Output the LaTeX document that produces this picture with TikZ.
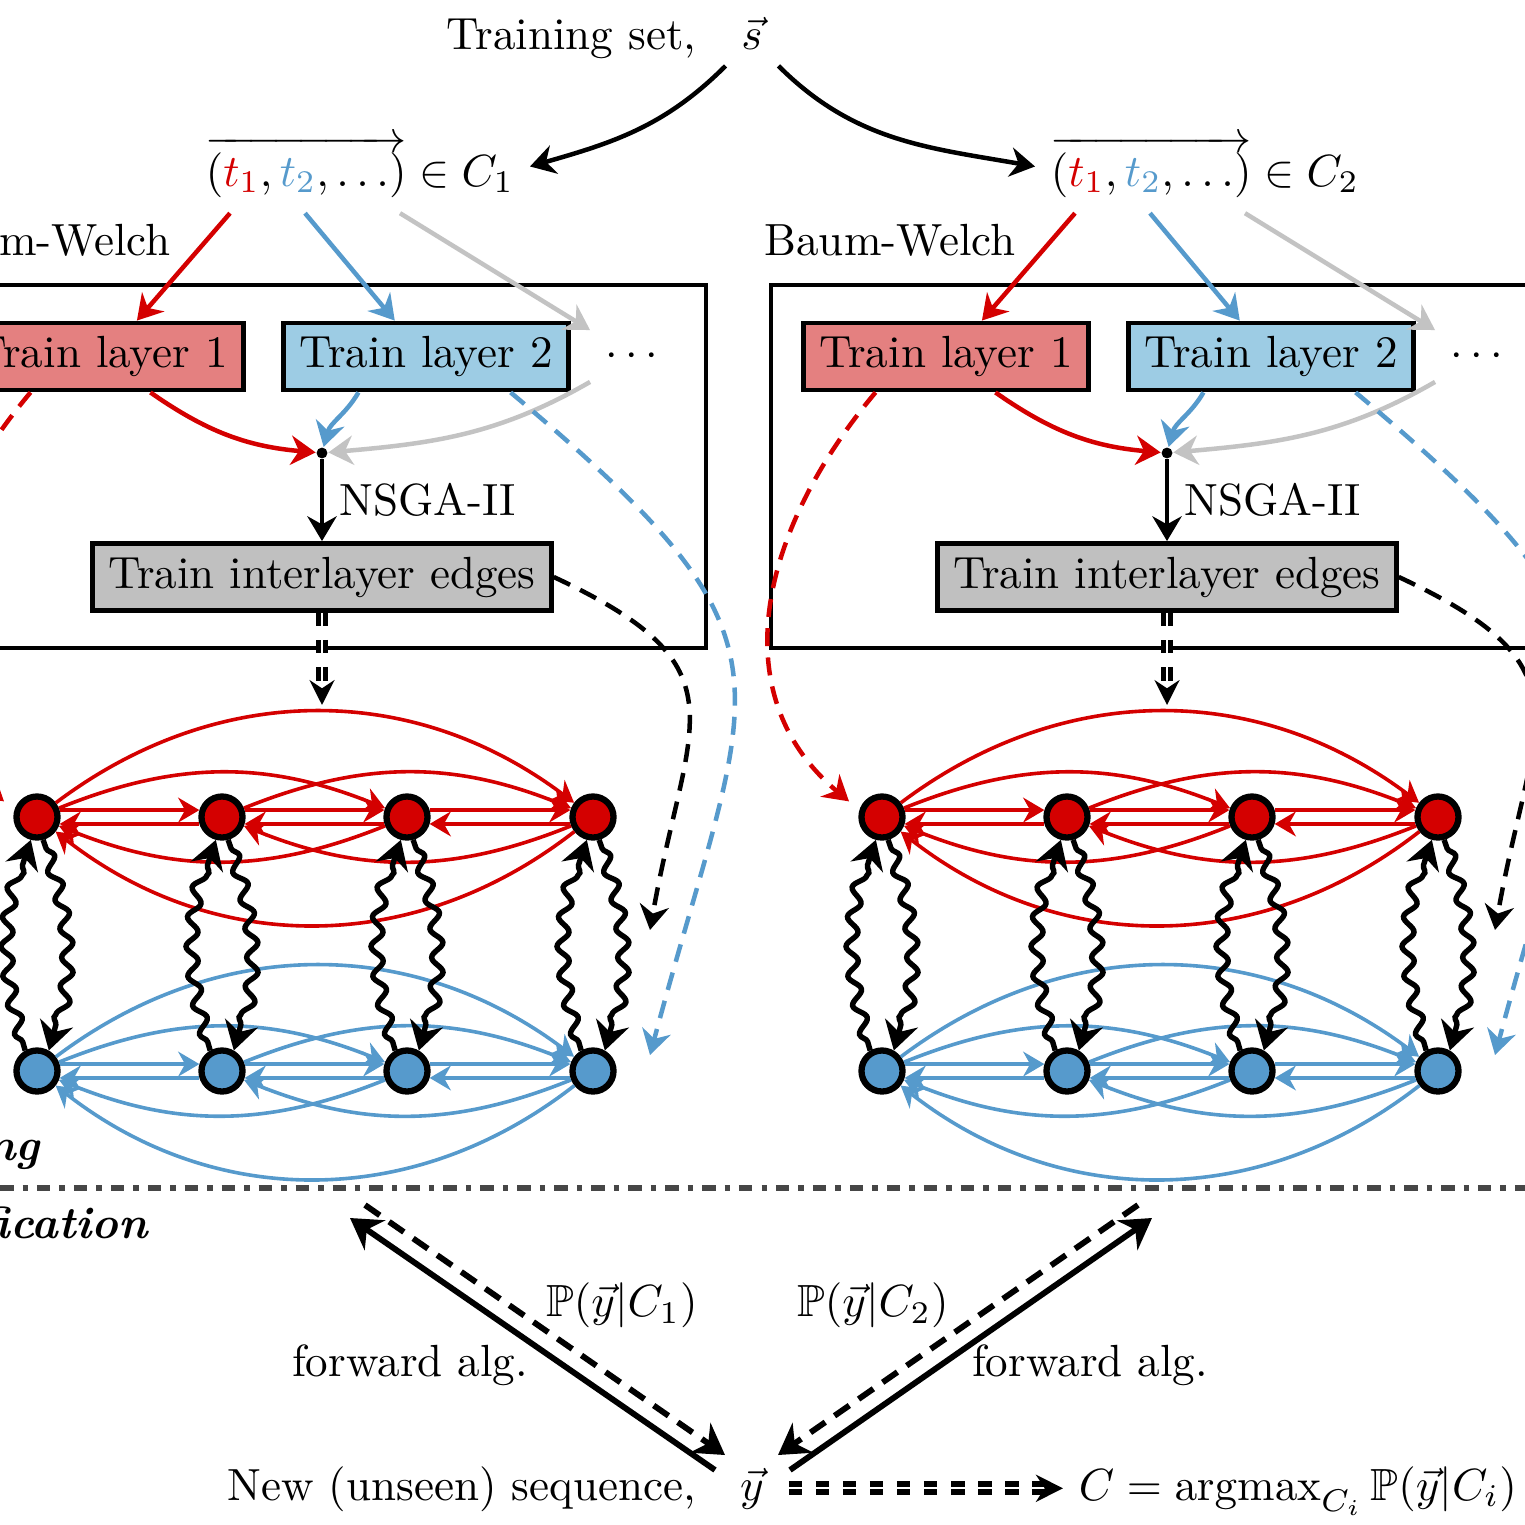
\documentclass[tikz,border=0pt]{standalone}
\usepackage{amsmath,amssymb}
\usetikzlibrary{arrows.meta,decorations.pathmorphing,calc}

\definecolor{myred}{RGB}{212,0,0}
\definecolor{myblue}{RGB}{86,154,204}
\definecolor{lightred}{RGB}{228,128,128}
\definecolor{lightblue}{RGB}{157,204,228}
\definecolor{boxgray}{RGB}{192,192,192}
\definecolor{arrgray}{RGB}{195,195,195}
\definecolor{sepgray}{RGB}{70,70,70}

\tikzset{
  trainbox/.style={draw, line width=1pt, minimum width=2.22cm, minimum height=0.525cm, inner sep=0},
  state/.style={circle, draw, line width=1.4pt, minimum size=0.32cm, inner sep=0},
  edge/.style={thick, ->},
  wave/.style={line width=1.2pt, ->, decorate,
               decoration={snake, amplitude=1.3pt, segment length=6.5pt,
                           pre length=2pt, post length=4pt}},
  feed/.style={line width=1pt, ->, dash pattern=on 4pt off 2.5pt},
  dbl/.style={double, line width=1pt, double distance=0.45pt, dashed,
              -{Stealth[length=5.5pt,width=5.5pt]}},
}

\begin{document}
\begin{tikzpicture}[x=0.78cm, y=0.78cm,
                    >={Stealth[length=1.5pt 4, width=1.5pt 5]}]

   \useasboundingbox (0,0) rectangle (15.25,-15.25);
   \clip (0,0) rectangle (15.25,-15.25);

   % Training set
   \node[anchor=base] (s) at (7.52,-0.50) {$\vec{s}$};
   \node[anchor=base east] (trainset) at (7.12,-0.50) {Training set,};

   % One panel per class
   \foreach \p/\dx in {1/0, 2/8.45}{
   \begin{scope}[shift={(\dx,0)}]
      \node[anchor=base] (tup-\p) at (3.60,-1.86)
           {$\overrightarrow{(\textcolor{myred}{t_1}, \textcolor{myblue}{t_2}, \ldots)} \in C_\p$};
      \node (bw-\p) at (0.45,-2.40) {Baum-Welch};
      \draw[thick] (-0.74,-2.85) rectangle (7.06,-6.48);

      \node[trainbox, fill=lightred]  (tl1-\p) at (1.01,-3.565) {Train layer 1};
      \node[trainbox, fill=lightblue] (tl2-\p) at (4.26,-3.565) {Train layer 2};
      \node (dots-\p) at (6.36,-3.56) {$\cdots$};
      \node[circle, fill, inner sep=0, minimum size=0.85mm] (dot-\p) at (3.22,-4.53) {};
      \node[trainbox, fill=boxgray, minimum width=3.58cm] (tie-\p) at (3.22,-5.77)
           {Train interlayer edges};
      \coordinate (gr-\p) at (3.22,-7.05);
      \coordinate (tie-end-\p) at (6.50,-9.30);
      \coordinate (tl2-end-\p) at (6.50,-10.55);

      % Tuple to layers
      \draw[line width=1pt,->,myred]   ($(tup-\p.south)+(-1.30,0)$) -- (tl1-\p.45);
      \draw[line width=1pt,->,myblue]  ($(tup-\p.south)+(-0.55,0)$) -- (tl2-\p.131);
      \draw[line width=1pt,->,arrgray] ($(tup-\p.south)+(0.40,0)$)  -- (dots-\p.north west);

      % Layers to NSGA-II
      \draw[line width=1pt,->,myred]   (tl1-\p.-36) to[out=-35,in=175] (dot-\p);
      \draw[line width=1pt,->,myblue]  (tl2-\p.-152) to[out=-120,in=75] (dot-\p);
      \draw[line width=1pt,->,arrgray] (dots-\p.south west) to[out=-150,in=5] (dot-\p);
      \draw[line width=1pt,->] (dot-\p) -- node[right] {NSGA-II} (tie-\p);
      \draw[dbl] (tie-\p) -- (gr-\p);

      % Nodes
      \foreach \i/\x in {1/0.37, 2/2.22, 3/4.07, 4/5.93}{
         \node[state, fill=myred]  (r\i-\p) at (\x,-8.17) {};
         \node[state, fill=myblue] (b\i-\p) at (\x,-10.71) {};
      }

      % Intralayer edges
      \foreach \ly/\c in {r/myred, b/myblue}{
         \foreach \i/\j in {1/2, 2/3, 3/4}{
            \draw[edge,\c] (\ly\i-\p.17) -- (\ly\j-\p.163);
            \draw[edge,\c] (\ly\j-\p.-163) -- (\ly\i-\p.-17);
         }
         \foreach \i/\j in {1/3, 2/4, 3/1, 4/2}
            \draw[edge,\c] (\ly\i-\p) to[bend left=22] (\ly\j-\p);
         \draw[edge,\c] (\ly1-\p) to[bend left=37] (\ly4-\p);
         \draw[edge,\c] (\ly4-\p) to[bend left=38] (\ly1-\p);
      }

      % Interlayer edges
      \foreach \i in {1,...,4}{
         \draw[wave] (b\i-\p.120) to[bend left=18] (r\i-\p.255);
         \draw[wave] (r\i-\p.-75) to[bend left=18] (b\i-\p.60);
      }

      % Trained parts into the model
      \draw[feed,myred,shorten >=3pt] (tl1-\p.-153) to[out=-130,in=140,looseness=1.1] (r1-\p.163);
      \draw[feed,myblue] (tl2-\p.-23) to[out=-40,in=75,looseness=1.5] (tl2-end-\p);
      \draw[feed] (tie-\p.east) to[out=-25,in=80,looseness=1.5] (tie-end-\p);
   \end{scope}
   }

   \draw[line width=1pt,->] (s.south west) to[out=-135,in=16] (tup-1.east);
   \draw[line width=1pt,->] (s.south east) to[out=-45,in=170] (tup-2.west);

   % Separator
   \draw[line width=1.2pt,sepgray,dash dot] (0,-11.88) -- (15.25,-11.88);
   \node[anchor=base east] (trn) at (0.57,-11.60) {\textbf{\textit{Training}}};
   \node[anchor=base east] (cls) at (1.65,-12.38) {\textbf{\textit{Classification}}};

   % Classification
   \node[anchor=base] (y) at (7.52,-15.00) {$\vec{y}$};
   \node[anchor=base east] (newseq) at (7.12,-15.00) {New (unseen) sequence,};
   \node[anchor=base west] (res) at (10.63,-15.00)
        {$C = \operatorname{argmax}_{C_i} \mathbb{P}(\vec{y}|C_i)$};

   \coordinate (fa1) at (7.15,-14.70);
   \coordinate (fb1) at (3.50,-12.18);
   \coordinate (pa1) at (3.65,-12.05);
   \coordinate (pb1) at (7.25,-14.55);
   \coordinate (fa2) at (7.90,-14.70);
   \coordinate (fb2) at (11.52,-12.18);
   \coordinate (pa2) at (11.38,-12.05);
   \coordinate (pb2) at (7.78,-14.55);

   \draw[line width=1.3pt,->] (fa1) -- (fb1);
   \draw[line width=1.3pt,->,dash pattern=on 4pt off 2.5pt] (pa1) -- (pb1);
   \draw[line width=1.3pt,->] (fa2) -- (fb2);
   \draw[line width=1.3pt,->,dash pattern=on 4pt off 2.5pt] (pa2) -- (pb2);

   \node (pc1) at (6.22,-13.05) {$\mathbb{P}(\vec{y}|C_1)$};
   \node (pc2) at (8.73,-13.05) {$\mathbb{P}(\vec{y}|C_2)$};
   \node (fw1) at (4.10,-13.65) {forward alg.};
   \node (fw2) at (10.90,-13.65) {forward alg.};

   \draw[dbl, line width=1.3pt, -{Stealth[length=6pt,width=6pt]}]
        ([xshift=2pt]y.east) -- (y.east -| res.west);

\end{tikzpicture}
\end{document}
